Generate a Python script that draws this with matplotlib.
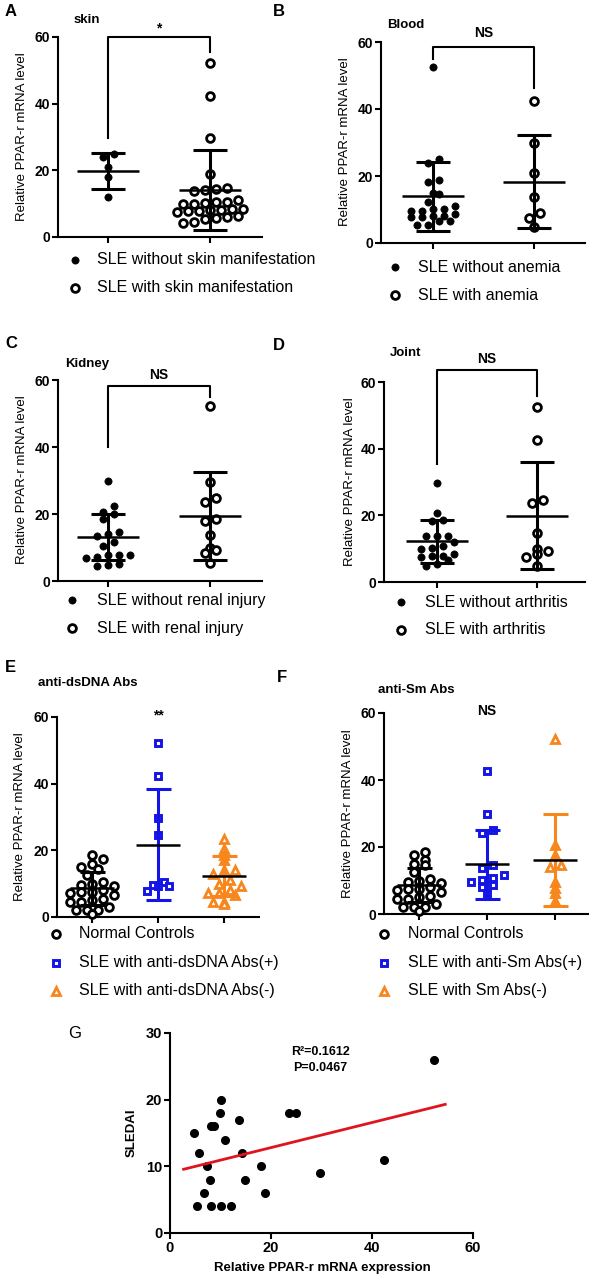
"""PPAR-r mRNA scatter-dot panels (A-F) and SLEDAI correlation (G)."""

import matplotlib
import numpy as np

matplotlib.use("Agg")
import matplotlib.pyplot as plt
from matplotlib.lines import Line2D

W, H = 589, 1281
plt.rcParams["font.family"] = ["Liberation Sans", "DejaVu Sans"]

# ---------------------------------------------------------------------------
# Data
# ---------------------------------------------------------------------------
skin_without = [24.0, 25.0, 21.0, 18.0, 12.0]
skin_with = [52.3, 42.3, 29.8, 18.8, 14.8, 14.3, 14.1, 13.8, 11.0, 10.6, 10.2,
             9.9, 9.8, 10.4, 8.5, 8.2, 8.0, 7.9, 7.8, 7.6, 8.3, 6.4, 6.0, 5.7,
             5.5, 4.5, 4.2]
skin_mean = [19.8, 14.0]
skin_sd = [5.4, 12.0]
skin_bracket = [60.0, 29.7, 55.5]

blood_without = [52.4, 25.0, 24.0, 18.8, 18.1, 15.0, 14.6, 12.1, 11.1, 10.1, 10.1,
                 9.6, 9.6, 8.7, 8.2, 8.1, 7.7, 7.7, 6.7, 6.7, 5.4, 5.4]
blood_with = [42.5, 29.9, 20.8, 13.6, 8.9, 7.4, 4.7]
blood_mean = [14.0, 18.3]
blood_sd = [10.3, 13.8]
blood_bracket = [58.6, 55.0, 46.2]

kidney_without = [29.8, 22.4, 20.7, 19.9, 18.5, 14.5, 14.0, 13.4, 11.5, 10.5,
                  7.8, 7.8, 7.8, 7.3, 6.8, 5.1, 4.8, 4.5]
kidney_with = [52.2, 29.6, 24.7, 23.7, 18.4, 17.9, 13.7, 9.9, 9.2, 8.3, 5.3]
kidney_mean = [13.1, 19.4]
kidney_sd = [6.9, 13.2]
kidney_bracket = [58.2, 40.1, 55.0]

joint_without = [29.7, 20.7, 18.7, 18.2, 13.9, 13.9, 13.7, 11.9, 10.7, 10.2,
                 10.0, 8.5, 7.9, 7.9, 7.4, 6.7, 5.5, 4.9]
joint_with = [52.5, 42.5, 24.7, 23.7, 14.7, 9.9, 9.4, 8.5, 7.5, 4.7]
joint_mean = [12.2, 19.9]
joint_sd = [6.5, 16.1]
joint_bracket = [63.6, 35.5, 55.8]

normal_controls = [18.5, 17.5, 16.0, 15.0, 14.5, 12.5, 10.5, 10.0, 9.5, 9.2, 8.0,
                   7.5, 7.5, 7.2, 6.5, 5.5, 5.2, 4.5, 4.5, 3.0, 2.2, 2.0, 2.0, 0.8]
dsdna_pos = [52.2, 42.4, 29.7, 24.5, 10.5, 9.5, 9.2, 9.2, 7.7]
dsdna_neg = [23.3, 20.5, 18.5, 17.2, 14.2, 14.2, 13.0, 11.0, 9.8, 9.2, 8.2, 7.2,
             7.2, 6.5, 4.5, 4.5, 3.9]
dsdna_mean = [8.6, 21.7, 12.3]
dsdna_sd = [5.0, 16.6, 6.0]

sm_pos = [42.6, 29.9, 25.0, 24.2, 14.5, 13.6, 11.5, 10.6, 10.2, 9.6, 8.6, 8.2, 6.4]
sm_neg = [52.2, 20.7, 17.7, 14.7, 14.0, 9.7, 7.7, 6.2, 4.0]
sm_mean = [8.6, 14.8, 16.2]
sm_sd = [5.0, 10.3, 13.8]

ppar_expr = [4.8, 5.8, 7.4, 8.0, 6.7, 5.3, 8.1, 10.1, 12.0, 8.1, 8.7, 10.1, 9.9,
             10.8, 13.6, 14.3, 14.9, 18.0, 18.8, 23.6, 25.0, 29.7, 42.4, 52.2]
sledai = [15, 12, 10, 8, 6, 4, 4, 4, 4, 16, 16, 20, 18, 14, 17, 12, 8, 10, 6,
          18, 18, 9, 11, 26]
fit_slope, fit_intercept = 0.188, 9.05
fit_range = [2.7, 54.5]

BLUE = "#1414e6"
ORANGE = "#f7861c"

FILLED = dict(marker="o", markerfacecolor="black", markeredgecolor="black",
              markersize=5.2, markeredgewidth=0.5)
OPEN = dict(marker="o", markerfacecolor="white", markeredgecolor="black",
            markersize=5.6, markeredgewidth=2.0)
SQUARE = dict(marker="s", markerfacecolor="white", markeredgecolor=BLUE,
              markersize=5.0, markeredgewidth=2.1)
TRIANGLE = dict(marker="^", markerfacecolor="white", markeredgecolor=ORANGE,
                markersize=5.6, markeredgewidth=2.0)


def px_rect(left, right, top, bottom):
    return [left / W, 1 - bottom / H, (right - left) / W, (bottom - top) / H]


def ftext(fig, x, y, s, **kw):
    fig.text(x / W, 1 - y / H, s, **kw)


def scatter_offsets(values, px_per_y, row_h=9.0, spacing=11.0):
    """Prism-style column scatter: values binned into rows, rows centred."""
    values = np.asarray(values, dtype=float)
    rows = np.round(values * px_per_y / row_h)
    offs = np.zeros(len(values))
    for r in np.unique(rows):
        idx = np.where(rows == r)[0]
        idx = idx[np.argsort(values[idx])]
        n = len(idx)
        offs[idx] = (np.arange(n) - (n - 1) / 2) * spacing
    return offs


def style_axes(ax, lw=1.5):
    for side in ("top", "right"):
        ax.spines[side].set_visible(False)
    for side in ("left", "bottom"):
        ax.spines[side].set_linewidth(lw)
    ax.tick_params(direction="out", length=4, width=lw, labelsize=10, pad=1.5)
    for lab in ax.get_yticklabels() + ax.get_xticklabels():
        lab.set_fontweight("bold")


def dot_panel(fig, box, cat_px, groups, means, sds, styles, colors,
              mean_half=31, cap_half=17):
    left, right, top, bottom = box
    ax = fig.add_axes(px_rect(*box))
    step = cat_px[1] - cat_px[0]
    ax.set_xlim((left - cat_px[0]) / step, (right - cat_px[0]) / step)
    ax.set_ylim(0, 60)
    px_per_y = (bottom - top) / 60
    for i, (vals, st) in enumerate(zip(groups, styles)):
        offs = scatter_offsets(vals, px_per_y) / step
        ax.plot(i + offs, vals, linestyle="none", clip_on=False, zorder=3, **st)
        ax.errorbar(i, means[i], yerr=sds[i], fmt="none", ecolor=colors[i],
                    elinewidth=2.2, capsize=cap_half * 0.72, capthick=2.2,
                    zorder=4)
        hw = mean_half / step
        ax.plot([i - hw, i + hw], [means[i]] * 2, color="black", lw=1.8,
                solid_capstyle="butt", zorder=5)
    ax.set_xticks(range(len(groups)))
    ax.set_yticks([0, 20, 40, 60])
    style_axes(ax)
    ax.set_xticklabels([])
    return ax


def bracket(ax, levels, label, text_y, text_x=0.5):
    top_y, left_y, right_y = levels
    ax.plot([0, 0, 1, 1], [left_y, top_y, top_y, right_y], color="black",
            lw=1.5, clip_on=False, zorder=5)
    ax.text(text_x, text_y, label, ha="center", va="center", fontsize=10,
            fontweight="bold")


def key(fig, mx, tx, y, label, style):
    fig.add_artist(Line2D([mx / W], [1 - y / H], transform=fig.transFigure,
                          linestyle="none", **style))
    ftext(fig, tx, y, label, ha="left", va="center", fontsize=11.5)


fig = plt.figure(figsize=(W / 100, H / 100), dpi=100)

# --- A: skin ---------------------------------------------------------------
ax = dot_panel(fig, (58, 262, 37, 237), (108, 210), [skin_without, skin_with],
               skin_mean, skin_sd, [FILLED, OPEN], ["black", "black"])
bracket(ax, skin_bracket, "*", 62.5)
ftext(fig, 22, 137, "Relative PPAR-r mRNA level", rotation=90, ha="center",
      va="center", fontsize=9.5)
ftext(fig, 5, 12, "A", fontsize=12, fontweight="bold", va="center")
ftext(fig, 74, 20, "skin", fontsize=9.5, fontweight="bold", va="center")
key(fig, 75, 97, 260, "SLE without skin manifestation", FILLED)
key(fig, 75, 97, 288, "SLE with skin manifestation", OPEN)

# --- B: blood --------------------------------------------------------------
ax = dot_panel(fig, (381, 585, 42, 243), (433, 534), [blood_without, blood_with],
               blood_mean, blood_sd, [FILLED, OPEN], ["black", "black"])
bracket(ax, blood_bracket, "NS", 62.7)
ftext(fig, 345, 142, "Relative PPAR-r mRNA level", rotation=90, ha="center",
      va="center", fontsize=9.5)
ftext(fig, 273, 12, "B", fontsize=12, fontweight="bold", va="center")
ftext(fig, 387, 25, "Blood", fontsize=9.5, fontweight="bold", va="center")
key(fig, 395, 418, 267, "SLE without anemia", FILLED)
key(fig, 395, 418, 295, "SLE with anemia", OPEN)

# --- C: kidney -------------------------------------------------------------
ax = dot_panel(fig, (58, 262, 380, 581), (108, 210), [kidney_without, kidney_with],
               kidney_mean, kidney_sd, [FILLED, OPEN], ["black", "black"])
bracket(ax, kidney_bracket, "NS", 61.5)
ftext(fig, 22, 480, "Relative PPAR-r mRNA level", rotation=90, ha="center",
      va="center", fontsize=9.5)
ftext(fig, 5, 343, "C", fontsize=12, fontweight="bold", va="center")
ftext(fig, 65, 364, "Kidney", fontsize=9.5, fontweight="bold", va="center")
key(fig, 72, 97, 600, "SLE without renal injury", FILLED)
key(fig, 72, 97, 628, "SLE with renal injury", OPEN)

# --- D: joint --------------------------------------------------------------
ax = dot_panel(fig, (384, 585, 382, 582), (437, 537), [joint_without, joint_with],
               joint_mean, joint_sd, [FILLED, OPEN], ["black", "black"])
bracket(ax, joint_bracket, "NS", 67.0)
ftext(fig, 350, 482, "Relative PPAR-r mRNA level", rotation=90, ha="center",
      va="center", fontsize=9.5)
ftext(fig, 273, 345, "D", fontsize=12, fontweight="bold", va="center")
ftext(fig, 390, 353, "Joint", fontsize=9.5, fontweight="bold", va="center")
key(fig, 401, 425, 602, "SLE without arthritis", FILLED)
key(fig, 401, 425, 630, "SLE with arthritis", OPEN)

# --- E: anti-dsDNA ---------------------------------------------------------
ax = dot_panel(fig, (57, 259, 717, 917), (92, 158, 225),
               [normal_controls, dsdna_pos, dsdna_neg], dsdna_mean, dsdna_sd,
               [OPEN, SQUARE, TRIANGLE], ["black", BLUE, ORANGE],
               mean_half=22, cap_half=12.5)
ax.text(1, 60.5, "**", ha="center", va="center", fontsize=10, fontweight="bold")
ftext(fig, 20, 817, "Relative PPAR-r mRNA level", rotation=90, ha="center",
      va="center", fontsize=9.5)
ftext(fig, 5, 668, "E", fontsize=12, fontweight="bold", va="center")
ftext(fig, 38, 683, "anti-dsDNA Abs", fontsize=9.5, fontweight="bold", va="center")
key(fig, 56, 79, 934, "Normal Controls", OPEN)
key(fig, 56, 79, 963, "SLE with anti-dsDNA Abs(+)", SQUARE)
key(fig, 56, 79, 991, "SLE with anti-dsDNA Abs(-)", TRIANGLE)

# --- F: anti-Sm ------------------------------------------------------------
ax = dot_panel(fig, (384, 588, 713, 914), (419, 487, 553),
               [normal_controls, sm_pos, sm_neg], sm_mean, sm_sd,
               [OPEN, SQUARE, TRIANGLE], ["black", BLUE, ORANGE],
               mean_half=22, cap_half=12.5)
ax.text(1, 60.6, "NS", ha="center", va="center", fontsize=10, fontweight="bold")
ftext(fig, 348, 814, "Relative PPAR-r mRNA level", rotation=90, ha="center",
      va="center", fontsize=9.5)
ftext(fig, 277, 678, "F", fontsize=12, fontweight="bold", va="center")
ftext(fig, 378, 690, "anti-Sm Abs", fontsize=9.5, fontweight="bold", va="center")
key(fig, 384, 408, 934, "Normal Controls", OPEN)
key(fig, 384, 408, 963, "SLE with anti-Sm Abs(+)", SQUARE)
key(fig, 384, 408, 991, "SLE with Sm Abs(-)", TRIANGLE)

# --- G: correlation --------------------------------------------------------
ax = fig.add_axes(px_rect(170, 473, 1033, 1233))
ax.set_xlim(0, 60)
ax.set_ylim(0, 30)
ax.plot(ppar_expr, sledai, linestyle="none", marker="o", color="black",
        markersize=5.5, clip_on=False, zorder=3)
fit_x = np.array(fit_range)
ax.plot(fit_x, fit_intercept + fit_slope * fit_x, color="#e0141c", lw=2, zorder=4)
ax.set_xticks([0, 20, 40, 60])
ax.set_yticks([0, 10, 20, 30])
style_axes(ax)
ax.tick_params(labelsize=10.5)
ftext(fig, 320, 1052, "R²=0.1612", ha="center", va="center", fontsize=9,
      fontweight="bold")
ftext(fig, 320, 1068, "P=0.0467", ha="center", va="center", fontsize=9,
      fontweight="bold")
ftext(fig, 322, 1268, "Relative PPAR-r mRNA expression", ha="center", va="center",
      fontsize=9.5, fontweight="bold")
ftext(fig, 132, 1133, "SLEDAI", rotation=90, ha="center", va="center",
      fontsize=9.5, fontweight="bold")
ftext(fig, 68, 1033, "G", fontsize=12, va="center")

fig.savefig("out.png", dpi=100)
